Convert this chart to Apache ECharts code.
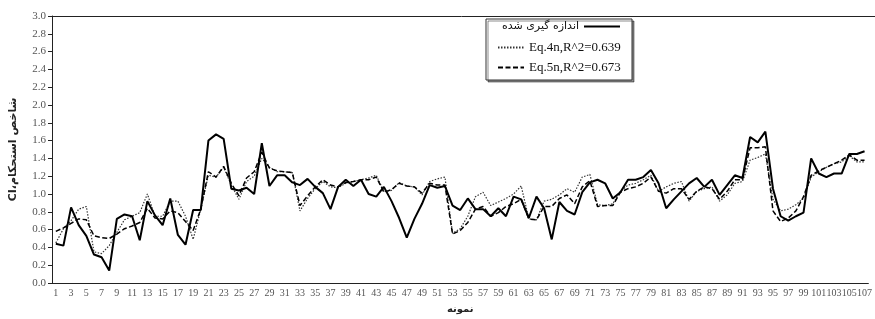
<!DOCTYPE html>
<html lang="fa">
<head>
  <meta charset="UTF-8">
  <title>CI</title>
</head>
<body style="margin:0; background-color:#fff;">
<div id="main" style="width:875px; height:319px;"></div>

<script src="https://cdn.jsdelivr.net/npm/echarts@6/dist/echarts.min.js"></script>

<script>
  // نمونه ها 1..107
  var samples = [];
  for (var n = 1; n <= 107; n++) samples.push(String(n));

  var yTicks = { min: 0, max: 3, step: 0.2 };

  var nameMeasured = 'اندازه گیری شده';
  var nameEq4 = 'Eq.4n,R^2=0.639';
  var nameEq5 = 'Eq.5n,R^2=0.673';

  var measured = [
    0.44, 0.42, 0.85, 0.65, 0.53, 0.32, 0.29, 0.14, 0.72, 0.77,
    0.75, 0.48, 0.92, 0.76, 0.65, 0.95, 0.54, 0.43, 0.82, 0.82,
    1.60, 1.67, 1.62, 1.06, 1.04, 1.07, 1.00, 1.57, 1.09, 1.21,
    1.21, 1.13, 1.10, 1.17, 1.08, 1.01, 0.83, 1.08, 1.16, 1.09,
    1.16, 1.00, 0.97, 1.08, 0.92, 0.73, 0.51, 0.72, 0.89, 1.10,
    1.07, 1.09, 0.87, 0.82, 0.95, 0.83, 0.83, 0.75, 0.84, 0.75,
    0.97, 0.94, 0.73, 0.97, 0.84, 0.49, 0.91, 0.81, 0.77, 1.02,
    1.13, 1.16, 1.12, 0.95, 1.02, 1.16, 1.16, 1.19, 1.27, 1.12,
    0.84, 0.94, 1.03, 1.12, 1.18, 1.08, 1.16, 0.99, 1.10, 1.21,
    1.18, 1.64, 1.58, 1.70, 1.06, 0.75, 0.70, 0.75, 0.79, 1.40,
    1.23, 1.19, 1.23, 1.23, 1.45, 1.45, 1.48
  ];

  var eq4 = [
    0.45, 0.61, 0.70, 0.83, 0.86, 0.35, 0.33, 0.42, 0.57, 0.71,
    0.75, 0.79, 1.00, 0.75, 0.75, 0.92, 0.92, 0.75, 0.49, 0.83,
    1.21, 1.19, 1.30, 1.10, 0.94, 1.14, 1.20, 1.40, 1.30, 1.25,
    1.25, 1.24, 0.81, 0.95, 1.06, 1.14, 1.08, 1.07, 1.12, 1.14,
    1.16, 1.18, 1.21, 1.03, 1.04, 1.13, 1.09, 1.08, 0.99, 1.14,
    1.17, 1.19, 0.56, 0.61, 0.75, 0.97, 1.02, 0.87, 0.91, 0.95,
    1.00, 1.09, 0.72, 0.71, 0.92, 0.94, 0.99, 1.06, 1.02, 1.19,
    1.22, 0.88, 0.87, 0.89, 1.03, 1.10, 1.12, 1.16, 1.21, 1.03,
    1.08, 1.12, 1.14, 0.92, 1.03, 1.06, 1.08, 0.92, 0.99, 1.12,
    1.14, 1.38, 1.41, 1.45, 0.94, 0.81, 0.83, 0.88, 0.95, 1.19,
    1.25, 1.30, 1.34, 1.36, 1.43, 1.36, 1.36
  ];

  var eq5 = [
    0.58, 0.62, 0.67, 0.72, 0.71, 0.53, 0.51, 0.50, 0.55, 0.61,
    0.64, 0.68, 0.84, 0.73, 0.72, 0.81, 0.79, 0.69, 0.59, 0.83,
    1.25, 1.19, 1.31, 1.12, 0.98, 1.18, 1.25, 1.47, 1.29, 1.26,
    1.25, 1.24, 0.87, 0.98, 1.08, 1.16, 1.10, 1.08, 1.13, 1.14,
    1.16, 1.16, 1.19, 1.02, 1.05, 1.12, 1.09, 1.08, 1.01, 1.12,
    1.10, 1.10, 0.55, 0.59, 0.68, 0.83, 0.86, 0.75, 0.79, 0.86,
    0.89, 0.94, 0.72, 0.71, 0.86, 0.86, 0.95, 0.99, 0.89, 1.08,
    1.15, 0.86, 0.87, 0.87, 1.02, 1.06, 1.08, 1.12, 1.19, 1.03,
    1.01, 1.06, 1.06, 0.94, 1.03, 1.08, 1.06, 0.94, 1.03, 1.16,
    1.16, 1.52, 1.52, 1.53, 0.81, 0.69, 0.73, 0.81, 0.97, 1.21,
    1.26, 1.30, 1.34, 1.38, 1.44, 1.38, 1.38
  ];

  var serif = "'Liberation Serif', 'DejaVu Serif', serif";
  var chart = echarts.init(document.getElementById('main'));

  // hide the circle that line series put in legend icons
  var noSymbol = { color: 'transparent', borderColor: 'transparent', borderWidth: 0, opacity: 0 };

  var option = {
    backgroundColor: '#fff',
    animation: false,
    grid: { left: 48, right: 0, top: 16, bottom: 31 },
    graphic: [
      {
        // top edge of plot area
        type: 'line',
        z: 1,
        shape: { x1: 48, y1: 16.5, x2: 875, y2: 16.5 },
        style: { stroke: '#222', lineWidth: 1 }
      },
      {
        type: 'rect',
        z: 5,
        shape: { x: 486, y: 19, width: 146, height: 61 },
        style: {
          fill: '#fff', stroke: '#333', lineWidth: 1,
          shadowColor: 'rgba(0,0,0,0.45)', shadowOffsetX: 2, shadowOffsetY: 2
        }
      }
    ],
    legend: [
      {
        data: [nameMeasured],
        right: 254, top: 21, padding: 0,
        align: 'right',
        itemWidth: 36, itemHeight: 14,
        z: 6,
        itemStyle: noSymbol,
        textStyle: { fontFamily: "'DejaVu Sans', sans-serif", fontSize: 11, color: '#111' }
      },
      {
        data: [nameEq4, nameEq5],
        orient: 'vertical',
        left: 497, top: 41, padding: 0,
        itemWidth: 26, itemHeight: 14, itemGap: 7,
        z: 6,
        itemStyle: noSymbol,
        textStyle: { fontFamily: serif, fontSize: 13, color: '#111' }
      }
    ],
    xAxis: {
      type: 'category',
      data: samples,
      boundaryGap: true,
      name: 'نمونه',
      nameLocation: 'middle',
      nameGap: 21,
      nameTextStyle: { fontFamily: "'DejaVu Sans', sans-serif", fontSize: 10, fontWeight: 'bold', color: '#222' },
      axisLine: { lineStyle: { color: '#222', width: 1 } },
      axisTick: { interval: 0, length: 4, lineStyle: { color: '#222' } },
      axisLabel: {
        interval: 1, margin: 5,
        fontFamily: serif, fontSize: 10, color: '#555'
      }
    },
    yAxis: {
      type: 'value',
      min: yTicks.min, max: yTicks.max, interval: yTicks.step,
      name: 'CI،شاخص استحکام',
      nameLocation: 'middle',
      nameGap: 33,
      nameTextStyle: { fontFamily: "'DejaVu Sans', sans-serif", fontSize: 11, fontWeight: 'bold', color: '#222' },
      axisLine: { show: true, lineStyle: { color: '#222', width: 1 } },
      axisTick: { show: true, length: 4, lineStyle: { color: '#222' } },
      splitLine: { show: false },
      axisLabel: {
        margin: 6,
        fontFamily: serif, fontSize: 11, color: '#555',
        formatter: function (v) { return v.toFixed(1); }
      }
    },
    series: [
      {
        name: nameMeasured,
        type: 'line',
        data: measured,
        symbol: 'none',
        z: 4,
        lineStyle: { color: '#000', width: 2, type: 'solid' },
        itemStyle: { color: '#000' }
      },
      {
        name: nameEq4,
        type: 'line',
        data: eq4,
        symbol: 'none',
        z: 3,
        lineStyle: { color: '#333', width: 1.2, type: [1.5, 1.5] },
        itemStyle: { color: '#333' }
      },
      {
        name: nameEq5,
        type: 'line',
        data: eq5,
        symbol: 'none',
        z: 3,
        lineStyle: { color: '#000', width: 1.5, type: [5, 2.5] },
        itemStyle: { color: '#000' }
      }
    ]
  };

  chart.setOption(option);
</script>
</body>
</html>
